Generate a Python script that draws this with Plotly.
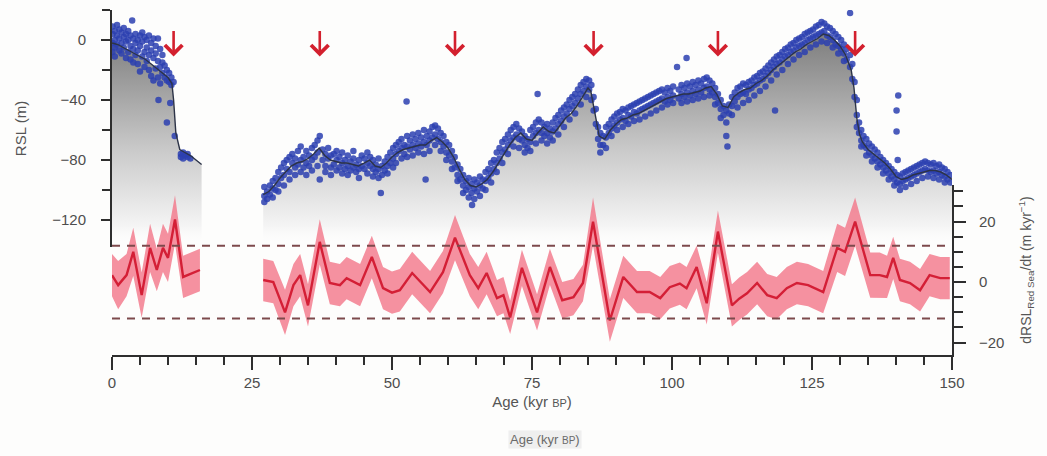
import plotly.graph_objects as go

# ---------------- Red Sea relative sea level (RSL, m) ----------------
# Smoothed RSL curve, Holocene / MIS 2 segment
curve1_age = [0, 1, 2, 3, 4, 5, 6, 7, 8, 9, 10, 10.7, 11.0, 11.4, 12.1, 13, 14, 15, 16]
curve1_rsl = [-2, -3, -5, -7, -9, -11, -13, -16, -19, -22, -25, -29, -40, -62, -73, -75, -77, -80, -83]

# Smoothed RSL curve, 27-150 kyr segment
curve2_age = [27, 28, 29, 30, 31, 32, 33, 34, 35, 36, 37, 38, 39, 40, 41, 42, 43, 44, 45, 46,
              47, 48, 49, 50, 51, 52, 53, 54, 55, 56, 57, 58, 59, 60, 61, 62, 63, 64, 65, 66,
              67, 68, 69, 70, 71, 72, 73, 74, 75, 76, 77, 78, 79, 80, 81, 82, 83, 84, 85, 85.5,
              86, 86.5, 87, 88, 89, 90, 91, 92, 93, 94, 95, 96, 97, 98, 99, 100, 101, 102, 103, 104,
              105, 106, 107, 108, 109, 110, 111, 112, 113, 114, 115, 116, 117, 118, 119, 120, 121, 122, 123, 124,
              125, 126, 127, 128, 129, 130, 131, 132, 132.5, 133, 133.5, 134, 135, 136, 137, 138, 139, 140, 141, 142,
              143, 144, 145, 146, 147, 148, 149, 150]
curve2_rsl = [-103, -101, -97, -92, -88, -84, -82, -81, -79, -76, -72, -77, -80, -81, -82, -82, -83, -84, -82, -80,
              -84, -85, -82, -78, -75, -73, -72, -71, -70, -70, -67, -65, -68, -72, -78, -86, -93, -97, -98, -96,
              -93, -88, -82, -76, -70, -65, -62, -66, -67, -62, -58, -61, -62, -57, -52, -49, -44, -38, -32, -34,
              -44, -55, -64, -66, -60, -56, -53, -52, -50, -49, -47, -45, -43, -41, -39, -38, -37, -36, -36, -35,
              -34, -32, -31, -36, -44, -45, -38, -35, -33, -32, -29, -27, -24, -20, -17, -14, -11, -8, -6, -3,
              -1, 1, 4, 3, 0, -4, -10, -20, -32, -52, -63, -68, -73, -76, -79, -82, -86, -91, -93, -92,
              -90, -89, -88, -87, -87, -88, -90, -93]

# Individual RSL observations: (age in kyr BP, RSL values in m)
obs1 = [
    (0.1, (9, 4, -2, -8)), (0.5, (6, 0, -5, -11)), (0.9, (10, 3, -3)), (1.3, (7, 1, -7)),
    (1.7, (5, -2, -9)), (2.1, (8, 2, -5)), (2.5, (4, -1, -12)), (2.9, (6, 0, -8)),
    (3.3, (3, -4, -13)), (3.6, (13,)), (3.8, (1, -6, -15)), (4.2, (4, -2, -10)),
    (4.6, (0, -7, -16)), (5.0, (3, -4, -21)), (5.4, (5, -1, -11)), (5.8, (2, -8, -18)),
    (6.2, (0, -5, -14)), (6.6, (3, -10, -20)), (7.0, (-2, -7, -24)), (7.4, (1, -12, -27)),
    (7.8, (-4, -9, -19)), (8.2, (1, -14, -25)), (8.3, (-40,)), (8.6, (-6, -18, -29)),
    (9.0, (-10, -15, -22)), (9.4, (-17, -25)), (9.8, (-20, -27, -55)), (10.2, (-22, -28)),
    (10.4, (-42,)), (10.6, (-25, -30)), (11.0, (-28,)), (11.2, (-64,)),
    (12.3, (-76, -78)), (12.7, (-75, -79)), (13.1, (-77,)), (13.5, (-78, -76)), (14.0, (-79,)),
]

obs2 = [
    (27.2, (-98, -104, -108)), (27.7, (-101, -106)), (28.2, (-97, -103)), (28.7, (-99, -94, -105)),
    (29.2, (-92, -100)), (29.7, (-88, -96, -101)), (30.2, (-85, -92)), (30.7, (-82, -90, -97)),
    (31.2, (-86, -80)), (31.7, (-78, -88, -93)), (32.2, (-82, -76)), (32.7, (-85, -79, -90)),
    (33.2, (-74, -83)), (33.7, (-80, -71, -88)), (34.2, (-78, -85)), (34.7, (-74, -82, -90)),
    (35.2, (-77, -84)), (35.7, (-72, -80, -87)), (36.2, (-70, -78)), (36.7, (-67, -75, -84)),
    (37.1, (-64, -93)), (37.6, (-73, -80)), (38.1, (-76, -84, -88)), (38.6, (-79, -72)),
    (39.1, (-77, -85, -90)), (39.6, (-76, -83)), (40.1, (-80, -87, -74)), (40.6, (-78, -85)),
    (41.1, (-82, -75, -89)), (41.6, (-80, -86)), (42.1, (-77, -84, -90)), (42.6, (-81, -87)),
    (43.1, (-79, -85, -74)), (43.6, (-83, -88)), (44.1, (-80, -86, -92)), (44.6, (-84, -77)),
    (45.1, (-79, -86)), (45.6, (-75, -82, -89)), (46.1, (-78, -84)), (46.6, (-80, -86, -91)),
    (47.1, (-83, -88)), (47.6, (-86, -79, -92)), (48.0, (-102,)), (48.2, (-84, -90)),
    (48.7, (-81, -87)), (49.2, (-78, -84, -89)), (49.7, (-75, -82)), (50.2, (-72, -79, -85)),
    (50.7, (-70, -76, -82)), (51.2, (-68, -74)), (51.7, (-66, -72, -79)), (52.2, (-70, -76)),
    (52.6, (-41,)), (52.7, (-64, -71, -78)), (53.2, (-67, -73)), (53.7, (-63, -70, -77)),
    (54.2, (-66, -72)), (54.7, (-62, -69, -75)), (55.2, (-65, -71)), (55.7, (-60, -68, -76)),
    (56.0, (-93,)), (56.2, (-64, -70)), (56.7, (-61, -67, -74)), (57.2, (-58, -65)),
    (57.7, (-57, -63, -70)), (58.2, (-59, -66)), (58.7, (-62, -68, -74)), (59.2, (-64, -71)),
    (59.7, (-68, -75, -80)), (60.2, (-70, -77)), (60.7, (-74, -81, -86)), (61.2, (-78, -85)),
    (61.7, (-83, -90, -94)), (62.2, (-86, -93)), (62.7, (-90, -97, -102)), (63.2, (-94, -100)),
    (63.7, (-92, -98, -105)), (64.2, (-96, -102)), (64.3, (-110,)), (64.7, (-93, -99, -106)),
    (65.2, (-95, -101)), (65.7, (-91, -97, -104)), (66.2, (-93, -99)), (66.7, (-88, -94, -100)),
    (67.2, (-86, -92)), (67.7, (-82, -89, -95)), (68.2, (-80, -86)), (68.7, (-75, -82, -88)),
    (69.2, (-72, -79)), (69.7, (-68, -75, -82)), (70.2, (-66, -73)), (70.7, (-63, -70, -76)),
    (71.2, (-60, -67)), (71.7, (-58, -65, -71)), (72.2, (-56, -63)), (72.7, (-59, -66, -72)),
    (73.2, (-61, -67)), (73.7, (-64, -70, -75)), (74.2, (-66, -72)), (74.7, (-60, -68, -74)),
    (75.2, (-58, -64)), (75.7, (-55, -62, -69)), (76.0, (-36,)), (76.2, (-53, -60)),
    (76.7, (-55, -62, -67)), (77.2, (-58, -64)), (77.7, (-56, -62, -69)), (78.2, (-59, -65)),
    (78.7, (-55, -61, -67)), (79.2, (-52, -59)), (79.7, (-50, -56, -63)), (80.2, (-47, -54)),
    (80.7, (-45, -51, -58)), (81.2, (-43, -49)), (81.7, (-40, -46, -53)), (82.2, (-38, -44)),
    (82.7, (-36, -42, -49)), (83.2, (-33, -39)), (83.7, (-30, -36, -43)), (84.2, (-28, -34)),
    (84.7, (-26, -31, -38)), (85.2, (-27, -33)), (85.6, (-30, -40)), (86.0, (-38, -47)),
    (86.4, (-46, -56)), (86.8, (-58, -66)), (87.2, (-62, -70, -75)), (87.7, (-64, -70)),
    (88.2, (-58, -65, -72)), (88.7, (-56, -62)), (89.2, (-53, -59, -64)), (89.7, (-51, -57)),
    (90.2, (-49, -55, -60)), (90.7, (-48, -53)), (91.2, (-46, -52, -58)), (91.7, (-47, -54)),
    (92.2, (-45, -50, -56)), (92.7, (-44, -51)), (93.2, (-43, -48, -54)), (93.7, (-42, -49)),
    (94.2, (-41, -47, -53)), (94.7, (-40, -46)), (95.2, (-39, -45, -51)), (95.7, (-38, -44)),
    (96.2, (-37, -43, -49)), (96.7, (-36, -42)), (97.2, (-35, -41, -47)), (97.7, (-34, -40)),
    (98.2, (-33, -39, -45)), (98.7, (-35, -41)), (99.2, (-32, -38, -43)), (99.7, (-34, -40)),
    (100.2, (-31, -37, -42)), (100.9, (-18,)), (101.2, (-33, -39)), (101.7, (-30, -36, -42)),
    (102.2, (-32, -38)), (102.6, (-12,)), (102.7, (-29, -35, -41)), (103.2, (-31, -37)),
    (103.7, (-28, -34, -40)), (104.2, (-30, -36)), (104.7, (-27, -33, -39)), (105.2, (-29, -35)),
    (105.7, (-26, -32, -38)), (106.2, (-25, -31)), (106.7, (-27, -33, -37)), (107.2, (-29, -35)),
    (107.7, (-32, -38, -43)), (108.2, (-36, -42)), (108.7, (-40, -46, -52)), (109.2, (-44, -50)),
    (109.7, (-47, -55, -64)), (109.9, (-71,)), (110.2, (-43, -49)), (110.7, (-38, -44, -50)),
    (111.2, (-35, -41)), (111.7, (-32, -38, -45)), (112.2, (-31, -36)), (112.7, (-29, -35, -42)),
    (113.2, (-30, -36)), (113.7, (-28, -33, -40)), (114.2, (-27, -32)), (114.7, (-25, -30, -37)),
    (115.2, (-24, -29)), (115.7, (-22, -27, -34)), (116.2, (-21, -26)), (116.7, (-19, -24, -31)),
    (117.2, (-17, -22)), (117.7, (-15, -20, -27)), (118.2, (-13, -18)), (118.4, (-47,)),
    (118.7, (-11, -16, -23)), (119.2, (-10, -15)), (119.7, (-8, -13, -20)), (120.2, (-6, -11)),
    (120.7, (-5, -10, -16)), (121.2, (-3, -8)), (121.7, (-2, -7, -13)), (122.2, (0, -5)),
    (122.7, (1, -4, -10)), (123.2, (2, -3)), (123.7, (4, -2, -8)), (124.2, (5, 0)),
    (124.7, (6, 1, -5)), (125.2, (7, 2)), (125.7, (9, 3, -3)), (126.2, (10, 4)),
    (126.7, (12, 5, -1)), (127.2, (11, 6)), (127.7, (9, 3, -2)), (128.2, (8, 2)),
    (128.7, (6, 0, -5)), (129.2, (4, -3)), (129.7, (2, -4, -9)), (130.2, (0, -6)),
    (130.7, (-3, -9, -14)), (131.2, (-6, -13)), (131.8, (18, -10, -18)), (132.2, (-16, -26)),
    (132.6, (-28, -38)), (133.0, (-40, -50, -58)), (133.4, (-55, -62)), (133.8, (-60, -67, -71)),
    (134.2, (-64, -70)), (134.7, (-66, -72, -77)), (135.2, (-69, -75)), (135.7, (-71, -77, -81)),
    (136.2, (-73, -79)), (136.7, (-75, -81, -85)), (137.2, (-78, -83)), (137.7, (-80, -85, -89)),
    (138.2, (-82, -87)), (138.7, (-84, -89, -93)), (139.2, (-86, -91)), (139.7, (-88, -93, -97)),
    (140.1, (-47, -61)), (140.2, (-90, -95)), (140.3, (-80,)), (140.4, (-37,)),
    (140.7, (-91, -96, -100)), (141.2, (-89, -94)), (141.7, (-88, -93, -98)), (142.2, (-87, -92)),
    (142.7, (-86, -91, -96)), (143.2, (-85, -90)), (143.7, (-84, -89, -94)), (144.2, (-83, -88)),
    (144.7, (-82, -87, -92)), (145.2, (-81, -86)), (145.7, (-82, -87, -91)), (146.2, (-83, -88)),
    (146.7, (-82, -87, -92)), (147.2, (-84, -89)), (147.7, (-83, -88, -93)), (148.2, (-85, -90)),
    (148.7, (-86, -91, -95)), (149.2, (-88, -93)), (149.7, (-90, -95)),
]

# ---------------- Rate of RSL change (m/kyr) with uncertainty ----------------
rate1_age = [0, 1.1, 2.6, 3.8, 5.3, 6.8, 8.0, 9.1, 10.0, 11.25, 12.7, 14.2, 15.7]
rate1_val = [2.3, -1, 2.3, 10, -4.3, 11.3, 4, 11.3, 8, 20.7, 1.7, 2.9, 4]
rate1_err = [7, 8, 7, 8, 7.5, 8, 7, 8, 8, 8, 7, 7, 7]

rate2_age = [27, 28.8, 30.9, 32.4, 33.6, 35.0, 37.1, 38.9, 40.7, 41.9, 44.3, 46.4, 48.4, 50.0, 51.4,
             53.6, 56.8, 59.1, 61.25, 63.9, 65.4, 66.9, 68.75, 69.9, 71.1, 73.2, 75.9, 78.2, 80.4, 82.4,
             84.1, 85.9, 88.9, 91.3, 93.75, 96.0, 97.9, 99.6, 101.4, 102.6, 104.4, 106.2, 108.2, 110.7, 112.0,
             113.4, 115.2, 117.0, 118.7, 120.5, 122.3, 124.3, 127.0, 129.5, 130.9, 132.7, 135.4, 137.1, 138.4, 139.5,
             140.7, 142.5, 144.3, 146.0, 147.9, 149.6]
rate2_val = [0.7, 0, -10, -1, 2.3, -7.7, 13.3, -0.3, -1, 1.3, -1, 8.3, -2, -3.5, -2.7,
             3, -3.3, 3.3, 14.7, 2.3, -2, 3, -5.3, -4.3, -11.7, 4.7, -10, 5, -6, -5,
             -0.3, 20, -12.7, 1.7, -3.3, -3.3, -5.3, -1.7, -0.5, -2, 5, -7, 16.7, -7.7, -5.5,
             -3.7, -0.3, -4.3, -5.3, -2, -0.3, -1, -3.3, 11.3, 10, 20, 2.3, 2.3, 1.7, 8,
             0.7, -0.3, -2.7, 2.3, 1.3, 1.3]
rate2_err = [7, 7, 7.5, 7, 7, 7, 7.5, 7, 7, 7, 7, 7, 7, 7, 7,
             7, 7, 7, 7.5, 7, 7, 7, 6, 6, 5.5, 6, 6, 6, 6, 6,
             6, 8, 7, 7, 7, 7, 7, 7, 7, 7, 7, 7, 7, 7, 7,
             7, 7, 7, 7, 7, 7, 7, 7, 8, 8, 8, 7.5, 7.5, 7, 7,
             7, 7, 7, 7, 7, 7]

threshold = [12, -12]                            # significance level (m/kyr)
arrow_ages = [11, 37.1, 61.25, 86, 108.2, 132.7]  # rapid sea-level rise events

AGE_RANGE = [0, 150]
RSL_RANGE = [-138, 20]
RATE_RANGE = [-24.1, 32.1]

FONT = "Liberation Sans, Arial, sans-serif"
AXIS_COL = "#2e2e2e"
TICK_FONT = dict(family=FONT, size=15, color="#4d4d4d")

fig = go.Figure()

# gray shading under the RSL curve
gray_scale = [[0.0, "rgba(255,255,255,0)"], [0.1, "rgb(244,244,244)"], [0.2, "rgb(232,232,232)"],
              [0.45, "rgb(202,202,202)"], [0.7, "rgb(166,166,166)"], [1.0, "rgb(124,124,124)"]]
for ages, rsl in ((curve1_age, curve1_rsl), (curve2_age, curve2_rsl)):
    fig.add_trace(go.Scatter(x=ages, y=[RSL_RANGE[0]] * len(ages), mode="lines",
                             line=dict(width=0), hoverinfo="skip", showlegend=False))
    fig.add_trace(go.Scatter(x=ages, y=rsl, mode="lines", line=dict(width=0),
                             fill="tonexty",
                             fillgradient=dict(type="vertical", colorscale=gray_scale,
                                               start=RSL_RANGE[0], stop=5),
                             hoverinfo="skip", showlegend=False))

# observations
obs_x, obs_y = [], []
for group in (obs1, obs2):
    for age, vals in group:
        for v in vals:
            obs_x.append(age)
            obs_y.append(v)
fig.add_trace(go.Scatter(x=obs_x, y=obs_y, mode="markers",
                         marker=dict(size=6.5, color="rgba(44,64,176,0.85)", symbol="circle",
                                     line=dict(width=0)),
                         showlegend=False))

# smoothed curve line
for ages, rsl in ((curve1_age, curve1_rsl), (curve2_age, curve2_rsl)):
    fig.add_trace(go.Scatter(x=ages, y=rsl, mode="lines",
                             line=dict(color="#2c3347", width=1.4), showlegend=False))

# rate of change: uncertainty band and central line
for ages, val, err in ((rate1_age, rate1_val, rate1_err), (rate2_age, rate2_val, rate2_err)):
    lower = [v - e for v, e in zip(val, err)]
    upper = [v + e for v, e in zip(val, err)]
    fig.add_trace(go.Scatter(x=ages, y=lower, yaxis="y2", mode="lines", line=dict(width=0),
                             hoverinfo="skip", showlegend=False))
    fig.add_trace(go.Scatter(x=ages, y=upper, yaxis="y2", mode="lines", line=dict(width=0),
                             fill="tonexty", fillcolor="rgba(243,118,136,0.8)",
                             hoverinfo="skip", showlegend=False))
    fig.add_trace(go.Scatter(x=ages, y=val, yaxis="y2", mode="lines",
                             line=dict(color="#d41f36", width=2.4), showlegend=False))

for t in threshold:
    fig.add_trace(go.Scatter(x=AGE_RANGE, y=[t, t], yaxis="y2", mode="lines",
                             line=dict(color="#7d4a4c", width=2, dash="8px,7px"),
                             showlegend=False))

# event arrows
for a in arrow_ages:
    fig.add_annotation(x=a, y=-11, xref="x", yref="y", text="", showarrow=True,
                       ax=0, ay=-27, arrowhead=4, arrowsize=1.3, arrowwidth=2.6,
                       arrowcolor="#d3202e")

fig.add_annotation(x=0.515, y=-0.245, xref="paper", yref="paper", xanchor="center",
                   yanchor="middle", showarrow=False,
                   text="Age (kyr <span style='font-size:10px'>BP</span>)",
                   font=dict(family=FONT, size=13, color="#6a6a6a"),
                   bgcolor="rgba(228,228,228,0.55)", borderpad=1)

fig.update_layout(
    width=1047, height=456,
    margin=dict(l=112, r=95, t=10, b=101),
    paper_bgcolor="#fdfdfc", plot_bgcolor="rgba(0,0,0,0)",
    showlegend=False,
    xaxis=dict(range=AGE_RANGE, anchor="y2", showgrid=False, zeroline=False,
               showline=True, linecolor=AXIS_COL, linewidth=2,
               tickvals=[0, 25, 50, 75, 100, 125, 150], ticks="outside", ticklen=13,
               tickwidth=2, tickcolor=AXIS_COL, tickfont=TICK_FONT,
               minor=dict(dtick=5, tick0=0, ticks="outside", ticklen=8, tickwidth=2,
                          tickcolor=AXIS_COL),
               title=dict(text="Age (kyr <span style='font-size:11px'>BP</span>)",
                          font=dict(family=FONT, size=15, color="#555555"), standoff=6)),
    yaxis=dict(range=RSL_RANGE, domain=[0.313, 1.0], anchor="x", showgrid=False,
               zeroline=False, showline=True, linecolor=AXIS_COL, linewidth=2,
               tickvals=[0, -40, -80, -120], ticks="outside", ticklen=9, tickwidth=2,
               tickcolor=AXIS_COL, tickfont=TICK_FONT, ticklabelstandoff=12,
               minor=dict(dtick=20, tick0=0, ticks="outside", ticklen=8, tickwidth=2,
                          tickcolor=AXIS_COL),
               title=dict(text="RSL (m)", font=dict(family=FONT, size=15, color="#555555"),
                          standoff=22)),
    yaxis2=dict(range=RATE_RANGE, domain=[0.0, 0.4928], anchor="x", side="right",
                showgrid=False, zeroline=False, showline=True, linecolor=AXIS_COL,
                linewidth=2, tickvals=[-20, 0, 20], ticks="outside", ticklen=12, tickwidth=2,
                tickcolor=AXIS_COL, tickfont=TICK_FONT, ticklabelstandoff=10,
                minor=dict(dtick=5, tick0=0, ticks="outside", ticklen=9, tickwidth=2,
                           tickcolor=AXIS_COL),
                title=dict(text="dRSL<sub>Red Sea</sub>/dt (m kyr<sup>−1</sup>)",
                           font=dict(family=FONT, size=14, color="#555555"), standoff=18)),
)

fig.write_html("out.html")
